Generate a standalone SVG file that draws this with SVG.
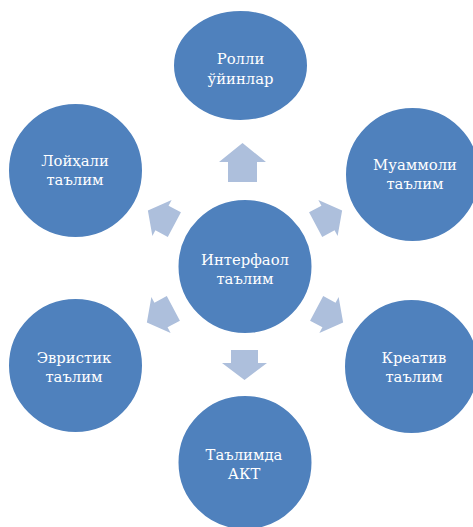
<svg xmlns="http://www.w3.org/2000/svg" width="473" height="527" viewBox="0 0 473 527">
  <style>
    .node { fill: #4F81BD; stroke: #FFFFFF; stroke-width: 2; }
    .arrow { fill: #ADBFDC; }
    .label { font-size: 14.8px; fill: #FFFFFF; text-anchor: middle; }
  </style>
  <defs>
    <polygon id="diag" points="16,0 0,-20.5 0,-14 -14,-14 -14,14 0,14 0,20.5"/>
  </defs>
  <rect width="473" height="527" fill="#FFFFFF"/>
  <g id="connectors">
    <polygon class="arrow" points="242.5,143 266,162 257,162 257,182 228,182 228,162 219,162"/>
    <polygon class="arrow" points="244.5,380 267,363 258,363 258,350 231,350 231,363 222,363"/>
    <use href="#diag" class="arrow" transform="translate(162,218) rotate(-152)"/>
    <use href="#diag" class="arrow" transform="translate(161,315) rotate(152)"/>
    <use href="#diag" class="arrow" transform="translate(328,218) rotate(-28)"/>
    <use href="#diag" class="arrow" transform="translate(329,315) rotate(28)"/>
  </g>
  <g font-family="DejaVu Serif, Liberation Serif, serif">
  <g id="node-center">
    <circle class="node" cx="245" cy="266.5" r="67.5"/>
    <text class="label" x="245" y="265">Интерфаол</text>
    <text class="label" x="245" y="284">таълим</text>
  </g>
  <g id="node-rolli">
    <ellipse class="node" cx="240.5" cy="65.5" rx="67.5" ry="55.5"/>
    <text class="label" x="240.5" y="64">Ролли</text>
    <text class="label" x="240.5" y="84">ўйинлар</text>
  </g>
  <g id="node-loyhali">
    <circle class="node" cx="75.5" cy="170.5" r="67.5"/>
    <text class="label" x="75" y="166">Лойҳали</text>
    <text class="label" x="75" y="184.5">таълим</text>
  </g>
  <g id="node-muammoli">
    <circle class="node" cx="412.5" cy="174.5" r="67.5"/>
    <text class="label" x="415" y="169.5">Муаммоли</text>
    <text class="label" x="415" y="189">таълим</text>
  </g>
  <g id="node-evristik">
    <circle class="node" cx="75.5" cy="365.5" r="67.5"/>
    <text class="label" x="74" y="363">Эвристик</text>
    <text class="label" x="74" y="381.5">таълим</text>
  </g>
  <g id="node-kreativ">
    <circle class="node" cx="411.5" cy="366.5" r="67.5"/>
    <text class="label" x="414" y="363">Креатив</text>
    <text class="label" x="414" y="381.5">таълим</text>
  </g>
  <g id="node-akt">
    <circle class="node" cx="245" cy="462.5" r="67.5"/>
    <text class="label" x="244" y="460">Таълимда</text>
    <text class="label" x="244" y="478.5">АКТ</text>
  </g>
  </g>
</svg>
